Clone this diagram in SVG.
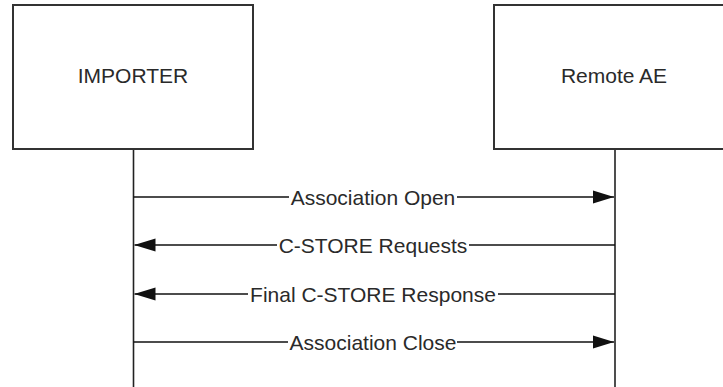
<svg xmlns="http://www.w3.org/2000/svg" width="723" height="387" viewBox="0 0 723 387">
<style>
.box{fill:#fff;stroke:#333;stroke-width:2}
.life{stroke:#222;stroke-width:1.6;fill:none}
.msg{stroke:#111;stroke-width:1.5;fill:none}
.lbl{font-family:"Liberation Sans",Arial,sans-serif;font-size:21px;fill:#2a2a2a;text-anchor:middle}
.bg{fill:#fff}
</style>
<defs>
<marker id="ah" viewBox="0 0 21 14" refX="21" refY="7" markerWidth="21" markerHeight="14" markerUnits="userSpaceOnUse" orient="auto">
<path d="M0,0.5 L21,7 L0,13.5 Z" fill="#111"/>
</marker>
</defs>
<rect width="723" height="387" fill="#fff"/>
<g id="connectors">
<line class="life" x1="133.5" y1="149" x2="133.5" y2="387"/>
<line class="life" x1="615" y1="149" x2="615" y2="387"/>
<line class="msg" x1="133.5" y1="197" x2="614" y2="197" marker-end="url(#ah)"/>
<line class="msg" x1="615" y1="245" x2="134.5" y2="245" marker-end="url(#ah)"/>
<line class="msg" x1="615" y1="294" x2="134.5" y2="294" marker-end="url(#ah)"/>
<line class="msg" x1="133.5" y1="342" x2="614" y2="342" marker-end="url(#ah)"/>
<rect class="bg" x="289" y="186" width="168" height="22"/>
<text class="lbl" x="373" y="204.5">Association Open</text>
<rect class="bg" x="277" y="234" width="192" height="22"/>
<text class="lbl" x="373" y="252.5">C-STORE Requests</text>
<rect class="bg" x="248" y="283" width="250" height="22"/>
<text class="lbl" x="373" y="301.5">Final C-STORE Response</text>
<rect class="bg" x="288" y="331" width="169" height="22"/>
<text class="lbl" x="373" y="349.5">Association Close</text>
</g>
<g id="importer">
<rect class="box" x="13" y="5" width="240" height="144"/>
<text class="lbl" x="133" y="83">IMPORTER</text>
</g>
<g id="remote-ae">
<rect class="box" x="494" y="5" width="242" height="144"/>
<text class="lbl" x="614" y="83">Remote AE</text>
</g>
</svg>
